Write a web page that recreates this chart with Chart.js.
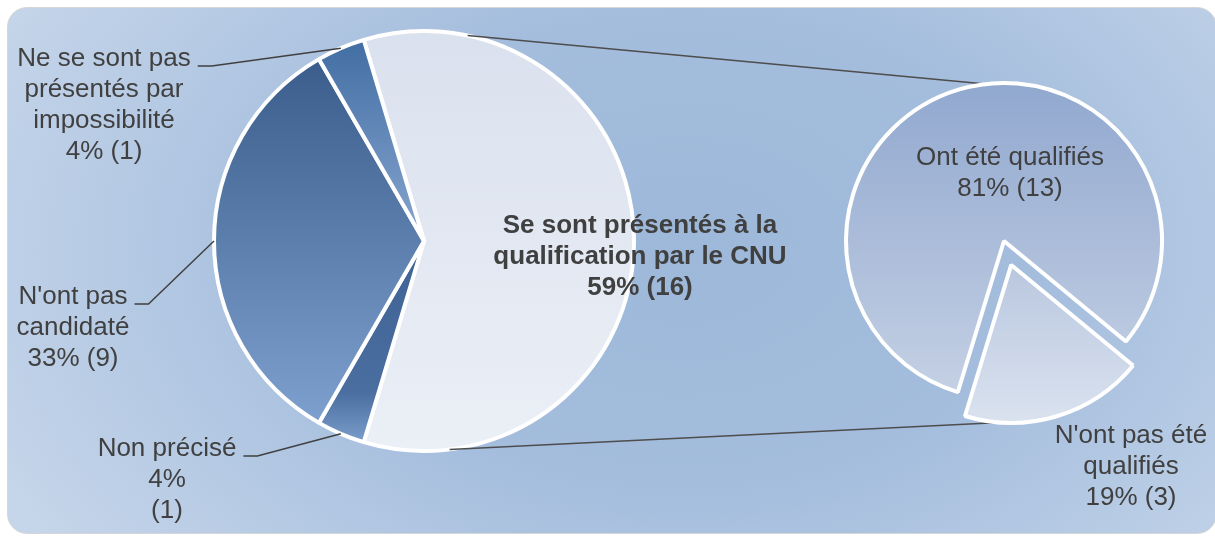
<!DOCTYPE html>
<html>
<head>
<meta charset="utf-8">
<script src="https://cdn.jsdelivr.net/npm/chart.js@4.4.0/dist/chart.umd.min.js"></script>
<style>
html, body { margin: 0; padding: 0; background: #fff; }
#wrap { position: relative; width: 1215px; height: 536px; overflow: hidden; }
#panel {
    position: absolute; left: 7px; top: 7px; width: 1210px; height: 527px;
    box-sizing: border-box; border: 1px solid #d6d6d6; border-radius: 20px;
    background: radial-gradient(ellipse 780px 520px at 56% 46%, #9db8d9 0%, #a4bddd 45%, #c6d6ea 100%);
}
canvas { position: absolute; left: 0; top: 0; }
</style>
</head>
<body>
<div id="wrap">
    <div id="panel"></div>
    <canvas id="main_canvas" width="1215" height="536"></canvas>
    <canvas id="sub_canvas" width="1215" height="536"></canvas>
</div>
<script>
// data
var main_labels = [
    "Se sont présentés à la qualification par le CNU",
    "Non précisé",
    "N'ont pas candidaté",
    "Ne se sont pas présentés par impossibilité"
];
var main_values = [16, 1, 9, 1];
var sub_labels = ["Ont été qualifiés", "N'ont pas été qualifiés"];
var sub_values = [13, 3];

// how the names are broken over lines in the picture
var main_name_lines = [
    ["Se sont présentés à la", "qualification par le CNU"],
    ["Non précisé"],
    ["N'ont pas", "candidaté"],
    ["Ne se sont pas", "présentés par", "impossibilité"]
];
var main_split_value = [false, true, false, false];
var sub_name_lines = [["Ont été qualifiés"], ["N'ont pas été", "qualifiés"]];
var sub_split_value = [false, false];

// layout / style
var FONT = "'Liberation Sans', Arial, sans-serif";
var TEXT_COLOR = '#404040';
var LINE_H = 31;
var MAIN_RADIUS = 210, SUB_RADIUS = 158;
var MAIN_ROTATION = 90 - main_values[0] / main_values.reduce(function (a, b) { return a + b; }, 0) * 180;
var SUB_ROTATION = 197;
var sub_explode = [0, 25];
// first baseline of each label, relative to the pie centre
var main_label_pos = [[216, -8], [-257, 215], [-351, 63], [-320, -175]];
var main_label_bold = [true, false, false, false];
var main_label_leader = [false, true, true, true];
var sub_label_pos = [[6, -76], [127, 202]];
var main_stops = [
    [[0, '#dae1ee'], [1, '#ebeff6']],
    [[0, '#3d6294'], [0.75, '#4a6e9f'], [1, '#7a9dcb']],
    [[0, '#3a5d8c'], [1, '#7ea0ce']],
    [[0, '#426ea4'], [1, '#88a6cf']]
];
var sub_stops = [
    [[0, '#91a8cf'], [1, '#c4d0e4']],
    [[0, '#b9c7df'], [1, '#dae2ef']]
];
// where the two joining lines meet each pie (degrees)
var main_link_angles = [-78, 83];
var sub_link_angles = [-96.7, 94];

function sum(arr) { return arr.reduce(function (a, b) { return a + b; }, 0); }

function slice_gradient(c, values, rotation, radius, stops, explode) {
    var chart = c.chart, area = chart.chartArea, i = c.dataIndex;
    if (!area) return stops[i][0][1];
    var total = sum(values);
    var a0 = (rotation - 90) * Math.PI / 180;
    for (var k = 0; k < i; k++) a0 += values[k] / total * 2 * Math.PI;
    var a1 = a0 + values[i] / total * 2 * Math.PI;
    var cy = (area.top + area.bottom) / 2;
    if (explode && explode[i]) cy += Math.sin((a0 + a1) / 2) * explode[i];
    var ys = [cy, cy + radius * Math.sin(a0), cy + radius * Math.sin(a1)];
    for (var t = -2.5 * Math.PI; t < a1 + 2 * Math.PI; t += Math.PI) {
        if (t > a0 && t < a1) ys.push(cy + radius * Math.sin(t));
    }
    var g = chart.ctx.createLinearGradient(0, Math.min.apply(null, ys), 0, Math.max.apply(null, ys));
    stops[i].forEach(function (s) { g.addColorStop(s[0], s[1]); });
    return g;
}

function label_lines(names, split, value, total) {
    var pct = Math.round(value / total * 100) + '%';
    var cnt = '(' + value + ')';
    var lines = names.slice();
    if (split) { lines.push(pct); lines.push(cnt); }
    else lines.push(pct + ' ' + cnt);
    return lines;
}

function draw_labels(chart, values, names, split, pos, bold, leader) {
    var ctx = chart.ctx, area = chart.chartArea;
    var cx = (area.left + area.right) / 2, cy = (area.top + area.bottom) / 2;
    var total = sum(values);
    var arcs = chart.getDatasetMeta(0).data;
    ctx.save();
    ctx.fillStyle = TEXT_COLOR;
    ctx.textAlign = 'center';
    ctx.textBaseline = 'alphabetic';
    values.forEach(function (v, i) {
        var lines = label_lines(names[i], split[i], v, total);
        var x = cx + pos[i][0], y = cy + pos[i][1];
        ctx.font = (bold && bold[i] ? 'bold ' : '') + '26px ' + FONT;
        lines.forEach(function (ln, j) { ctx.fillText(ln, x, y + j * LINE_H); });
        if (leader && leader[i]) {
            var arc = arcs[i];
            var mid = (arc.startAngle + arc.endAngle) / 2;
            var sx = x + ctx.measureText(lines[0]).width / 2 + 7;
            ctx.beginPath();
            ctx.strokeStyle = '#404040';
            ctx.lineWidth = 1.5;
            ctx.moveTo(sx, y);
            ctx.lineTo(sx + 14, y);
            ctx.lineTo(arc.x + Math.cos(mid) * arc.outerRadius, arc.y + Math.sin(mid) * arc.outerRadius);
            ctx.stroke();
        }
    });
    ctx.restore();
}

var main_chart = new Chart(document.getElementById('main_canvas'), {
    type: 'pie',
    data: {
        labels: main_labels,
        datasets: [{
            data: main_values,
            backgroundColor: function (c) { return slice_gradient(c, main_values, MAIN_ROTATION, MAIN_RADIUS, main_stops); },
            borderColor: '#ffffff',
            borderWidth: 4
        }]
    },
    options: {
        responsive: false,
        animation: false,
        events: [],
        rotation: MAIN_ROTATION,
        radius: MAIN_RADIUS,
        layout: { padding: { left: 0, top: 0, right: 367, bottom: 54 } },
        plugins: { legend: { display: false }, tooltip: { enabled: false } }
    },
    plugins: [{
        id: 'main_labels',
        afterDraw: function (chart) {
            draw_labels(chart, main_values, main_name_lines, main_split_value, main_label_pos, main_label_bold, main_label_leader);
        }
    }]
});

new Chart(document.getElementById('sub_canvas'), {
    type: 'pie',
    data: {
        labels: sub_labels,
        datasets: [{
            data: sub_values,
            backgroundColor: function (c) { return slice_gradient(c, sub_values, SUB_ROTATION, SUB_RADIUS, sub_stops, sub_explode); },
            borderColor: '#ffffff',
            borderWidth: 4
        }]
    },
    options: {
        responsive: false,
        animation: false,
        events: [],
        rotation: SUB_ROTATION,
        radius: SUB_RADIUS,
        layout: { padding: { left: 793, top: 0, right: 0, bottom: 54 } },
        plugins: { legend: { display: false }, tooltip: { enabled: false } }
    },
    plugins: [{
        id: 'explode',
        afterDatasetUpdate: function (chart, args) {
            var area = chart.chartArea;
            var cx = (area.left + area.right) / 2, cy = (area.top + area.bottom) / 2;
            args.meta.data.forEach(function (arc, i) {
                var d = sub_explode[i] || 0;
                var mid = (arc.startAngle + arc.endAngle) / 2;
                arc.x = cx + Math.cos(mid) * d;
                arc.y = cy + Math.sin(mid) * d;
            });
        }
    }, {
        id: 'links',
        beforeDatasetsDraw: function (chart) {
            var m = main_chart.getDatasetMeta(0).data[0];
            var s = chart.getDatasetMeta(0).data;
            var ends = [s[0], s[1]];
            var ctx = chart.ctx;
            ctx.save();
            ctx.strokeStyle = '#4d4d4d';
            ctx.lineWidth = 1.5;
            for (var k = 0; k < 2; k++) {
                var a = main_link_angles[k] * Math.PI / 180, b = sub_link_angles[k] * Math.PI / 180;
                ctx.beginPath();
                ctx.moveTo(m.x + Math.cos(a) * m.outerRadius, m.y + Math.sin(a) * m.outerRadius);
                ctx.lineTo(ends[k].x + Math.cos(b) * ends[k].outerRadius, ends[k].y + Math.sin(b) * ends[k].outerRadius);
                ctx.stroke();
            }
            ctx.restore();
        },
        afterDraw: function (chart) {
            draw_labels(chart, sub_values, sub_name_lines, sub_split_value, sub_label_pos, null, null);
        }
    }]
});
</script>
</body>
</html>
